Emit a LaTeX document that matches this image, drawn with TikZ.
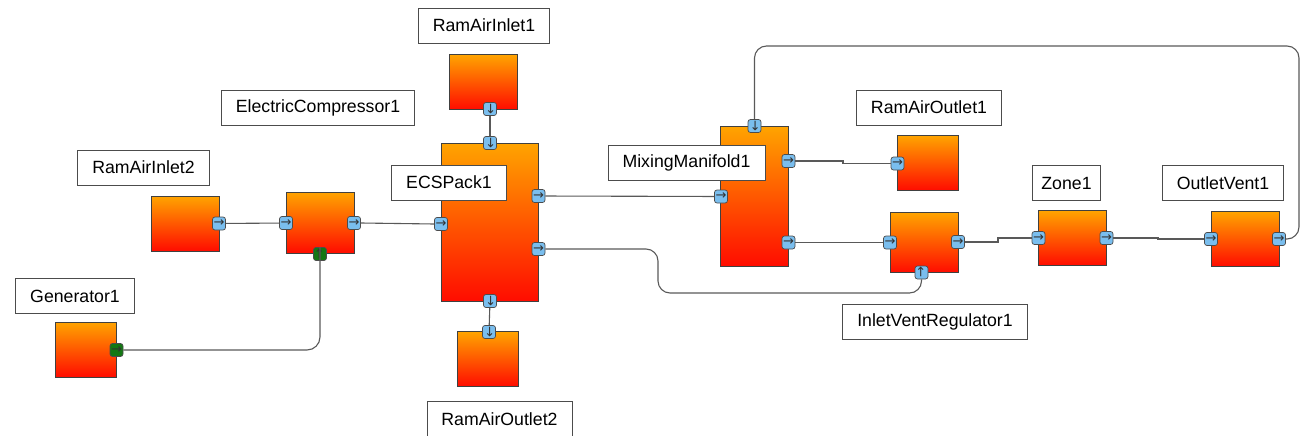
\documentclass[tikz,border=0pt]{standalone}
\usepackage{fontspec}
\setmainfont{Liberation Sans}
\newfontfamily\arrowfont{DejaVu Sans}
\usetikzlibrary{positioning, calc}
\definecolor{blkTop}{RGB}{255,164,0}
\definecolor{blkBot}{RGB}{255,12,0}
\definecolor{portBlue}{RGB}{122,190,238}
\definecolor{portGreen}{RGB}{20,120,20}
\newcommand{\pa}{→}

\begin{document}
\begin{tikzpicture}[x=1pt, y=-1pt,
    block/.style = {draw=black!75, line width=0.8pt, top color=blkTop, bottom color=blkBot,
                    minimum width=68pt, minimum height=55pt, inner sep=0pt},
    lbl/.style = {draw=black!70, line width=0.9pt, fill=white, font=\fontsize{17.7}{21}\selectfont,
                  minimum height=35pt, inner xsep=14.5pt, inner ysep=0pt},
    port/.style = {draw=black!70, line width=0.7pt, rounded corners=2.5pt, fill=portBlue,
                   minimum size=13pt, inner sep=0pt, text=black!80,
                   font=\arrowfont\fontsize{13}{13}\selectfont},
    power/.style = {port, fill=portGreen},
    wire/.style = {draw=black!65, line width=1.1pt, rounded corners=12pt},
    jog/.style = {wire, sharp corners}]
    \useasboundingbox (0,0) rectangle (1302,436);

    % blocks
    \node[block] (rai1) at (483.5,82) {};
    \node[block] (ec) at (320,222.5) [minimum height=61pt] {};
    \node[block] (rai2) at (185,223.5) {};
    \node[block] (gen) at (85.5,349.5) [minimum width=61pt] {};
    \node[block] (ecs) at (490,222) [minimum width=97pt, minimum height=158pt] {};
    \node[block] (rao2) at (487.5,359) [minimum width=61pt] {};
    \node[block] (mm) at (754.5,196) [minimum width=68pt, minimum height=140pt] {};
    \node[block] (rao1) at (928,163) [minimum width=61pt] {};
    \node[block] (ivr) at (924,242.5) [minimum height=60pt] {};
    \node[block] (zone) at (1072.5,238) {};
    \node[block] (ov) at (1245,239) {};

    % labels
    \node[lbl] (rai1-l) at (484,25.5) {RamAirInlet1};
    \node[lbl] (ec-l) at (318,108) {ElectricCompressor1};
    \node[lbl] (rai2-l) at (143.5,167.5) {RamAirInlet2};
    \node[lbl] (gen-l) at (75,296) {Generator1};
    \node[lbl] (ecs-l) at (449,182.5) {ECSPack1};
    \node[lbl] (rao2-l) at (499.5,419) {RamAirOutlet2};
    \node[lbl] (mm-l) at (686.5,162.5) {MixingManifold1};
    \node[lbl] (rao1-l) at (929,107.5) {RamAirOutlet1};
    \node[lbl] (ivr-l) at (935,321.5) {InletVentRegulator1};
    \node[lbl, inner xsep=8.5pt] (zone-l) at (1066.5,183) {Zone1};
    \node[lbl] (ov-l) at (1223,183) {OutletVent1};

    % ports
    \node[port] (rai2-o) at (219,223.5) {\pa};
    \node[port] (ec-i) at (286,223) {\pa};
    \node[port] (ec-o) at (354,223) {\pa};
    \node[power, rotate=90] (ec-p) at (320,254) {\pa};
    \node[power] (gen-o) at (116.5,350) {\pa};
    \node[port, rotate=-90] (rai1-o) at (490,109) {\pa};
    \node[port, rotate=-90] (ecs-t) at (490,143) {\pa};
    \node[port] (ecs-i) at (441,224) {\pa};
    \node[port] (ecs-o1) at (538.5,196) {\pa};
    \node[port] (ecs-o2) at (538.5,249) {\pa};
    \node[port, rotate=-90] (ecs-b) at (490,301) {\pa};
    \node[port, rotate=-90] (rao2-i) at (489,332) {\pa};
    \node[port, rotate=-90] (mm-t) at (754.5,126) {\pa};
    \node[port] (mm-i) at (721,196.5) {\pa};
    \node[port] (mm-o1) at (788.5,161) {\pa};
    \node[port] (mm-o2) at (788.5,242.5) {\pa};
    \node[port] (rao1-i) at (897.5,163.5) {\pa};
    \node[port] (ivr-i) at (890,242.5) {\pa};
    \node[port] (ivr-o) at (958,242) {\pa};
    \node[port, rotate=90] (ivr-c) at (921.5,272.5) {\pa};
    \node[port] (zone-i) at (1038.5,238) {\pa};
    \node[port] (zone-o) at (1106.5,238) {\pa};
    \node[port] (ov-i) at (1211,239) {\pa};
    \node[port] (ov-o) at (1279,239) {\pa};

    % connections
    \draw[wire] (rai2-o) -- (ec-i);
    \draw[wire] (ec-o.east) -- (ecs-i.west);
    \draw[wire, rounded corners=13pt] (gen-o.east) -| (ec-p.east);
    \draw[wire] (rai1-o) -- (ecs-t);
    \draw[wire] (ecs-b) -- (rao2-i);
    \draw[wire] (ecs-o1) -- (mm-i);
    \draw[wire] (ecs-o2.east) -| (658,293) -| (ivr-c.west);
    \draw[jog] (mm-o1.east) -| (843,163.5) -- (rao1-i.west);
    \draw[wire] (mm-o2.east) -- (ivr-i.west);
    \draw[jog] (ivr-o.east) -| (998,238) -- (zone-i.west);
    \draw[jog] (zone-o.east) -| (1158,239) -- (ov-i.west);
    \draw[wire] (ov-o.east) -| (1299,46) -| (mm-t.west);
\end{tikzpicture}
\end{document}
